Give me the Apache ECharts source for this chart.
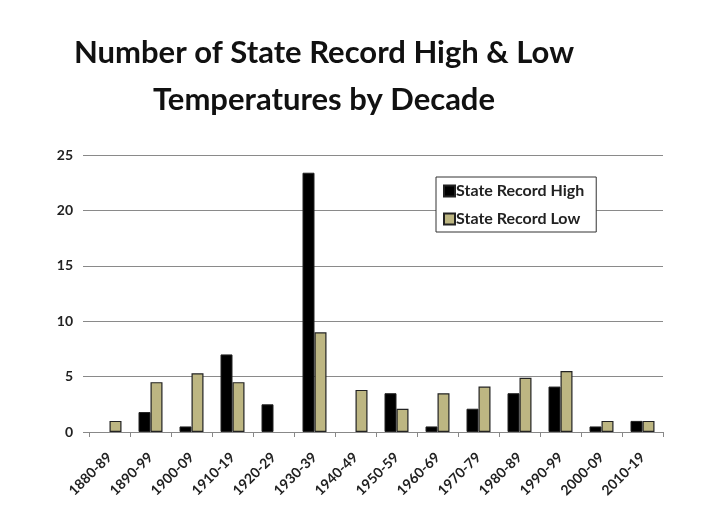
<!DOCTYPE html>
<html>
<head>
<meta charset="utf-8">
<script src="https://cdn.jsdelivr.net/npm/echarts@6/dist/echarts.min.js"></script>
<style>
html,body{margin:0;padding:0;background:#fff;}
#chart{width:702px;height:531px;}
</style>
</head>
<body>
<div id="chart"></div>
<script>
const decades = ['1880-89','1890-99','1900-09','1910-19','1920-29','1930-39','1940-49','1950-59','1960-69','1970-79','1980-89','1990-99','2000-09','2010-19'];
const recordHigh = [0, 1.8, 0.5, 7, 2.5, 23.4, 0, 3.5, 0.5, 2.1, 3.5, 4.1, 0.5, 1];
const recordLow = [1, 4.5, 5.3, 4.5, 0, 9, 3.8, 2.1, 3.5, 4.1, 4.9, 5.5, 1, 1];
const yTicks = [0, 5, 10, 15, 20, 25];

// zero-height bars are not drawn in the reference
const noZero = arr => arr.map(v => (v === 0 ? '-' : v));

const FONT = 'Lato';
const chart = echarts.init(document.getElementById('chart'), null, {renderer: 'canvas'});
chart.setOption({
  backgroundColor: '#ffffff',
  animation: false,
  title: {
    text: 'Number of State Record High & Low\nTemperatures by Decade',
    left: 319,
    top: 24,
    textAlign: 'center',
    textStyle: {fontFamily: FONT, fontWeight: 'bold', fontSize: 31, lineHeight: 47, color: '#111'}
  },
  legend: {
    orient: 'vertical',
    left: 436,
    top: 177,
    padding: [6, 12, 5, 7],
    itemGap: 12,
    itemWidth: 11,
    itemHeight: 11,
    icon: 'rect',
    backgroundColor: '#fff',
    borderColor: '#333',
    borderWidth: 1,
    textStyle: {fontFamily: FONT, fontWeight: 'bold', fontSize: 16, color: '#222', padding: [0,0,0,-4]},
    data: ['State Record High', 'State Record Low']
  },
  grid: {left: 89, right: 39, top: 155, bottom: 99},
  xAxis: {
    type: 'category',
    data: decades,
    axisLine: {lineStyle: {color: '#888', width: 1}},
    axisTick: {show: true, length: 5, lineStyle: {color: '#888'}},
    axisLabel: {interval: 0, rotate: 45, margin: 23, fontFamily: FONT, fontWeight: 'bold', fontSize: 14, color: '#222'}
  },
  yAxis: {
    type: 'value',
    min: yTicks[0],
    max: yTicks[yTicks.length - 1],
    interval: 5,
    axisLine: {show: false},
    axisTick: {show: true, length: 6, lineStyle: {color: '#888'}},
    splitLine: {lineStyle: {color: '#8a8a8a', width: 1}},
    axisLabel: {margin: 16, fontFamily: FONT, fontWeight: 'bold', fontSize: 14, color: '#222'}
  },
  series: [
    {
      name: 'State Record High',
      type: 'bar',
      data: noZero(recordHigh),
      barWidth: 12,
      barGap: '0%',
      itemStyle: {color: '#000000', borderColor: '#222', borderWidth: 1}
    },
    {
      name: 'State Record Low',
      type: 'bar',
      data: noZero(recordLow),
      barWidth: 12,
      itemStyle: {color: '#bdb682', borderColor: '#222', borderWidth: 1.2}
    }
  ]
});
</script>
</body>
</html>
